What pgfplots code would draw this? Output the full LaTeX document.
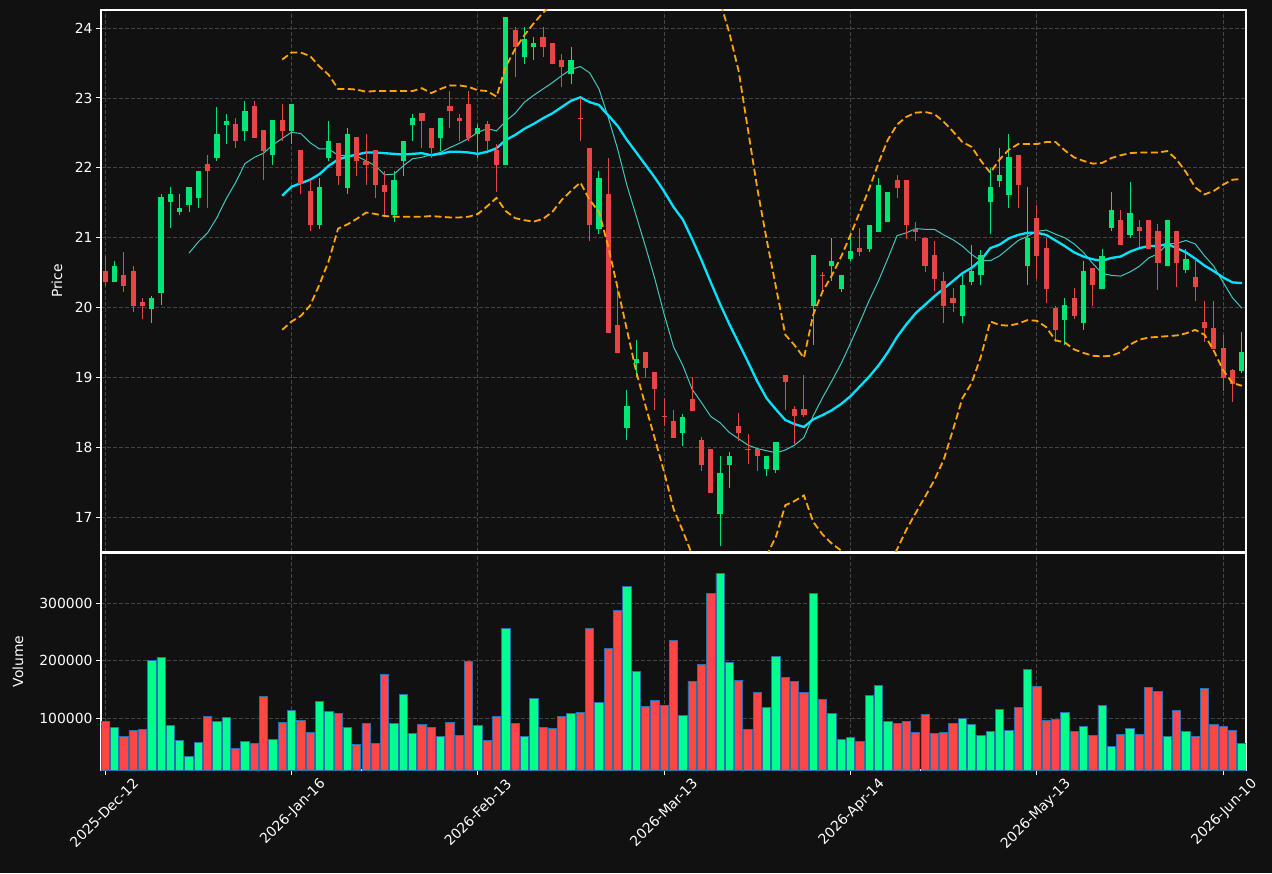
\documentclass[border=0pt]{standalone}
\usepackage{fontspec}
\setmainfont{DejaVu Sans}
\usepackage{pgfplots}
\usepackage{pgfplotstable}
\pgfplotsset{compat=1.18}
\definecolor{bgc}{HTML}{111111}
\definecolor{upc}{HTML}{00E676}
\definecolor{dnc}{HTML}{E84545}
\definecolor{vup}{HTML}{00FF8C}
\definecolor{vdn}{HTML}{FF4646}
\definecolor{vedge}{HTML}{2A6FB0}
\definecolor{gridc}{HTML}{444444}
\definecolor{ma10c}{HTML}{40C8C0}
\definecolor{ma20c}{HTML}{00E5FF}
\definecolor{bbc}{HTML}{FFA500}

\pgfplotstableread{
i o h l c v
1 20.36 20.66 20.36 20.60 84000
5 19.98 20.17 19.78 20.13 201000
6 20.21 21.62 20.03 21.58 206000
7 21.51 21.72 21.14 21.62 88000
8 21.37 21.62 21.32 21.43 62000
9 21.47 21.72 21.37 21.72 34000
10 21.57 21.96 21.43 21.96 58000
12 22.14 22.87 22.10 22.49 95000
13 22.62 22.77 22.34 22.67 102000
15 22.53 22.96 22.39 22.82 60000
18 22.18 22.68 22.04 22.68 63500
20 22.53 22.92 22.34 22.92 114000
23 21.18 21.86 21.13 21.72 129500
24 22.14 22.67 22.10 22.39 112000
26 21.71 22.57 21.62 22.49 84000
31 21.32 21.95 21.23 21.82 91000
32 22.10 22.39 21.89 22.39 141700
33 22.62 22.77 22.39 22.72 74000
36 22.43 22.72 22.24 22.72 68700
40 22.48 22.63 22.14 22.57 88000
43 22.04 24.16 22.04 24.16 256500
45 23.58 24.01 23.49 23.84 68700
46 23.73 23.87 23.54 23.79 134800
50 23.34 23.73 23.20 23.55 108700
53 21.13 21.95 21.05 21.86 127800
56 18.27 18.82 18.10 18.59 329600
57 19.21 19.54 19.01 19.26 181700
62 18.21 18.48 18.02 18.43 105200
66 17.04 17.88 16.58 17.63 352200
67 17.75 17.93 17.42 17.88 197400
71 17.69 17.88 17.59 17.88 119100
72 17.68 18.08 17.63 18.08 207800
76 20.02 20.75 19.46 20.75 317400
78 20.59 20.99 20.38 20.66 108700
79 20.27 20.46 20.22 20.46 63500
80 20.70 21.07 20.66 20.81 67000
82 20.84 21.18 20.80 21.18 140000
83 21.08 21.86 21.08 21.76 157400
84 21.22 21.66 21.22 21.66 94800
92 19.88 20.46 19.78 20.32 100000
93 20.36 20.90 20.32 20.52 89600
94 20.46 20.82 20.32 20.75 70400
95 21.51 22.00 21.05 21.72 77400
96 21.81 22.29 21.72 21.90 115700
97 21.61 22.49 21.43 22.15 79000
99 20.59 21.72 20.32 20.99 185200
103 19.82 20.13 19.46 20.03 110400
105 19.78 20.66 19.68 20.52 86100
107 20.27 20.84 20.27 20.74 122600
108 21.14 21.65 21.10 21.40 51300
110 21.04 21.80 21.00 21.35 82600
114 20.59 21.25 20.59 21.25 68700
116 20.54 20.84 20.49 20.70 77400
122 19.09 19.65 19.06 19.36 56500
}\upt

\pgfplotstableread{
i o h l c v
0 20.52 20.74 20.31 20.36 95000
2 20.46 20.80 20.22 20.31 69000
3 20.52 20.60 19.93 20.02 79000
4 20.08 20.13 19.83 20.02 81000
11 22.05 22.19 21.43 21.95 103500
14 22.63 22.71 22.29 22.38 48000
16 22.88 22.96 22.43 22.43 56500
17 22.54 22.54 21.82 22.24 138000
19 22.68 22.92 22.39 22.53 93000
21 22.25 22.25 21.62 21.77 96500
22 21.67 21.82 21.09 21.18 74500
25 22.35 22.35 21.76 21.89 108700
27 22.44 22.44 21.89 22.10 55000
28 22.10 22.49 21.76 22.04 91000
29 22.25 22.25 21.57 21.76 56500
30 21.76 21.95 21.32 21.66 176500
34 22.78 22.78 22.29 22.67 89600
35 22.57 22.57 22.14 22.28 84000
37 22.88 23.10 22.57 22.81 93000
38 22.72 22.77 22.39 22.67 70400
39 22.92 23.10 22.39 22.43 199000
41 22.63 22.67 22.26 22.38 62000
42 22.25 22.34 21.66 22.04 103500
44 23.98 24.01 23.30 23.73 91000
47 23.88 24.01 23.59 23.73 84000
48 23.79 23.79 23.48 23.48 82600
49 23.55 23.63 23.16 23.44 103500
51 22.71 23.00 22.39 22.70 110400
52 22.29 22.29 20.95 21.18 256500
54 21.62 22.14 19.64 19.64 221700
55 19.75 20.28 19.35 19.35 287800
58 19.36 19.36 18.99 19.14 120900
59 19.08 19.08 18.54 18.83 131300
60 18.44 18.70 18.30 18.43 122600
61 18.38 18.54 18.13 18.13 235700
63 18.69 19.00 18.52 18.52 164300
64 18.11 18.14 17.66 17.75 193900
65 17.98 17.98 17.35 17.35 317400
68 18.30 18.49 18.09 18.21 166000
69 17.98 18.19 17.76 17.97 80900
70 17.98 17.98 17.66 17.88 145200
73 19.03 19.03 18.53 18.93 171300
74 18.55 18.59 18.04 18.45 164300
75 18.55 19.03 18.43 18.46 145200
77 20.47 20.51 20.23 20.46 133000
81 20.85 21.14 20.74 20.80 60000
85 21.82 21.90 21.57 21.71 91300
86 21.82 21.82 20.98 21.18 94800
87 21.13 21.23 20.95 21.08 75700
88 20.99 20.99 20.51 20.59 107000
89 20.75 20.95 20.23 20.41 74000
90 20.38 20.51 19.78 20.02 75700
91 20.13 20.28 19.93 20.07 91300
98 22.19 22.19 21.43 21.76 119100
100 21.28 21.47 20.41 20.74 155600
101 20.85 20.99 20.07 20.27 96500
102 19.99 20.02 19.51 19.68 98300
104 20.13 20.28 19.83 19.88 77400
106 20.56 20.56 20.02 20.32 70400
109 21.25 21.40 20.90 20.90 72200
111 21.15 21.25 20.87 21.09 72200
112 21.25 21.25 20.84 20.84 154100
113 21.10 21.20 20.25 20.64 147000
115 21.10 21.10 20.30 20.64 114000
117 20.44 20.70 20.10 20.30 68700
118 19.80 20.10 19.51 19.70 152200
119 19.70 20.10 19.41 19.41 89600
120 19.42 19.61 18.81 18.99 86100
121 19.10 19.12 18.65 18.91 79000
}\dnt

\pgfplotstableread{
i m
9 20.78
10 20.94
11 21.07
12 21.29
13 21.56
14 21.79
15 22.06
16 22.15
17 22.21
18 22.33
19 22.42
20 22.51
21 22.49
22 22.36
23 22.27
24 22.27
25 22.18
26 22.18
27 22.17
28 22.10
29 22.03
30 21.90
31 21.91
32 22.03
33 22.13
34 22.15
35 22.19
36 22.22
37 22.29
38 22.35
39 22.42
40 22.51
41 22.56
42 22.53
43 22.67
44 22.78
45 22.94
46 23.04
47 23.13
48 23.22
49 23.32
50 23.41
51 23.45
52 23.36
53 23.13
54 22.72
55 22.27
56 21.75
57 21.31
58 20.87
59 20.41
60 19.90
61 19.44
62 19.17
63 18.83
64 18.64
65 18.44
66 18.35
67 18.21
68 18.12
69 18.03
70 17.98
71 17.95
72 17.92
73 17.96
74 18.03
75 18.14
76 18.45
77 18.71
78 18.95
79 19.20
80 19.49
81 19.79
82 20.10
83 20.38
84 20.70
85 21.03
86 21.07
87 21.13
88 21.12
89 21.12
90 21.04
91 20.97
92 20.88
93 20.76
94 20.67
95 20.67
96 20.74
97 20.85
98 20.96
99 21.02
100 21.09
101 21.11
102 21.05
103 21.00
104 20.91
105 20.79
106 20.63
107 20.49
108 20.46
109 20.45
110 20.51
111 20.59
112 20.71
113 20.77
114 20.91
115 20.92
116 20.96
117 20.91
118 20.74
119 20.59
120 20.36
121 20.14
122 19.99
}\maten

\pgfplotstableread{
i m u lo
19 21.60 23.55 19.68
20 21.73 23.65 19.80
21 21.78 23.65 19.88
22 21.83 23.60 20.03
23 21.91 23.45 20.33
24 22.03 23.33 20.67
25 22.12 23.13 21.13
26 22.16 23.13 21.19
27 22.19 23.12 21.27
28 22.22 23.09 21.36
29 22.22 23.10 21.34
30 22.21 23.10 21.31
31 22.20 23.10 21.30
32 22.19 23.10 21.30
33 22.20 23.10 21.30
34 22.21 23.14 21.30
35 22.18 23.07 21.31
36 22.20 23.13 21.30
37 22.23 23.18 21.29
38 22.23 23.18 21.29
39 22.22 23.16 21.30
40 22.20 23.11 21.34
41 22.23 23.10 21.45
42 22.28 23.02 21.57
43 22.40 23.45 21.38
44 22.47 23.70 21.28
45 22.56 23.90 21.25
46 22.63 24.07 21.23
47 22.71 24.22 21.27
48 22.78 24.35 21.37
49 22.87 24.40 21.54
50 22.96 24.40 21.67
51 23.01 24.45 21.79
52 22.94 24.45 21.54
53 22.90 24.50 21.37
54 22.75 24.63 20.87
55 22.60 24.92 20.28
56 22.40 25.12 19.68
57 22.22 25.36 19.08
58 22.04 25.49 18.59
59 21.86 25.60 18.12
60 21.66 25.68 17.64
61 21.44 25.78 17.12
62 21.26 25.72 16.80
63 20.98 25.50 16.46
64 20.68 25.10 16.26
65 20.36 24.70 16.02
66 20.05 24.38 15.72
67 19.76 23.93 15.59
68 19.49 23.38 15.60
69 19.22 22.54 15.90
70 18.94 21.70 16.18
71 18.70 20.97 16.45
72 18.54 20.29 16.72
73 18.39 19.61 17.17
74 18.33 19.46 17.23
75 18.29 19.28 17.31
76 18.40 19.90 16.93
77 18.46 20.23 16.75
78 18.53 20.46 16.62
79 18.62 20.73 16.52
80 18.73 21.04 16.42
81 18.87 21.37 16.37
82 19.01 21.70 16.30
83 19.17 22.07 16.27
84 19.36 22.40 16.32
85 19.58 22.62 16.54
86 19.76 22.73 16.82
87 19.92 22.79 17.06
88 20.04 22.80 17.29
89 20.16 22.77 17.53
90 20.27 22.66 17.82
91 20.38 22.52 18.25
92 20.49 22.37 18.70
93 20.57 22.30 18.92
94 20.68 22.10 19.30
95 20.85 21.93 19.80
96 20.90 22.12 19.75
97 20.99 22.26 19.74
98 21.04 22.34 19.77
99 21.07 22.34 19.82
100 21.07 22.34 19.81
101 21.04 22.37 19.72
102 20.96 22.37 19.53
103 20.88 22.25 19.50
104 20.79 22.15 19.40
105 20.73 22.10 19.35
106 20.69 22.06 19.31
107 20.67 22.07 19.30
108 20.71 22.14 19.31
109 20.73 22.18 19.36
110 20.80 22.21 19.47
111 20.85 22.22 19.54
112 20.88 22.22 19.57
113 20.88 22.22 19.58
114 20.91 22.24 19.59
115 20.85 22.12 19.60
116 20.79 21.94 19.63
117 20.70 21.72 19.68
118 20.60 21.62 19.61
119 20.52 21.67 19.38
120 20.43 21.76 19.10
121 20.36 21.83 18.92
122 20.35 21.84 18.88
}\mtw

\pgfplotsset{
  common/.style={
    scale only axis, width=1145pt,
    xmin=-0.45, xmax=122.45,
    axis line style={white, line width=1.1pt},
    tick style={white, line width=1pt},
    tick align=outside, major tick length=5pt,
    xtick={0,20,...,120},
    xtick pos=left, ytick pos=left,
    grid=major,
    major grid style={gridc, dash pattern=on 4pt off 2pt, line width=0.8pt},
    tick label style={font=\fontsize{13.9}{16.7}\selectfont, color=white},
    label style={font=\fontsize{13.9}{16.7}\selectfont, color=white},
    /pgf/number format/assume math mode=true,
  },
  wick/.style={#1, draw=none, mark=none, forget plot,
    error bars/.cd, y dir=plus, y explicit, error mark=none,
    error bar style={draw=#1, solid, line width=1pt}},
  body/.style={#1, draw=none, mark=none, forget plot,
    error bars/.cd, y dir=plus, y explicit, error mark=none,
    error bar style={draw=#1, solid, line width=5.2pt}},
}

\begin{document}
\begin{tikzpicture}
\fill[bgc] (0pt,0pt) rectangle (1272pt,873pt);

\begin{axis}[common, at={(101pt,321pt)}, anchor=south west, height=542pt,
  ymin=16.5, ymax=24.26, ytick={17,18,...,24},
  xticklabels={}, xtick style={draw=none},
  ylabel={Price}, ylabel style={at={(axis description cs:-0.0384,0.5)}, anchor=center}]
\addplot[ma10c, line width=1pt] table[x=i, y=m] {\maten};
\addplot[ma20c, line width=2.3pt] table[x=i, y=m] {\mtw};
\addplot[wick=upc] table[x=i, y=l, y error expr=\thisrow{h}-\thisrow{l}] {\upt};
\addplot[wick=dnc] table[x=i, y=l, y error expr=\thisrow{h}-\thisrow{l}] {\dnt};
\addplot[body=upc] table[x=i, y=o, y error expr=\thisrow{c}-\thisrow{o}] {\upt};
\addplot[body=dnc] table[x=i, y=c, y error expr=\thisrow{o}-\thisrow{c}] {\dnt};
\addplot[bbc, line width=1.8pt, dash pattern=on 7pt off 3.5pt] table[x=i, y=u] {\mtw};
\addplot[bbc, line width=1.8pt, dash pattern=on 7pt off 3.5pt] table[x=i, y=lo] {\mtw};
\end{axis}

\begin{axis}[common, at={(101pt,103pt)}, anchor=south west, height=217pt,
  ymin=10000, ymax=387000, scaled y ticks=false,
  ytick={100000,200000,300000}, yticklabels={100000,200000,300000},
  xticklabels={2025-Dec-12,2026-Jan-16,2026-Feb-13,2026-Mar-13,2026-Apr-14,2026-May-13,2026-Jun-10},
  xticklabel style={inner sep=0pt, xshift=27pt, yshift=-2pt, rotate=45, anchor=north east},
  ylabel={Volume}, ylabel style={at={(axis description cs:-0.0725,0.5)}, anchor=center}]
\addplot[ybar, bar width=8.3pt, bar shift=0pt, fill=vup, draw=vedge, line width=0.8pt] table[x=i, y=v] {\upt};
\addplot[ybar, bar width=8.3pt, bar shift=0pt, fill=vdn, draw=vedge, line width=0.8pt] table[x=i, y=v] {\dnt};
\end{axis}
\end{tikzpicture}
\end{document}
